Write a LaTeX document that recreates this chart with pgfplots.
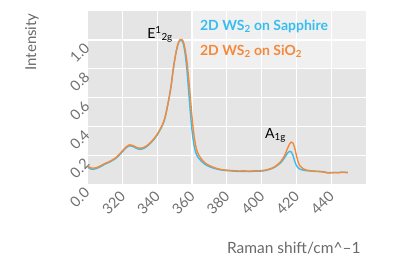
\documentclass[border=0pt]{standalone}
\usepackage{pgfplots}
\pgfplotsset{compat=1.18}
\usepackage{fontspec}
\setmainfont{Lato}
\definecolor{bgc}{HTML}{E5E5E5}
\definecolor{sapph}{HTML}{38BDEF}
\definecolor{sio}{HTML}{F5893A}
\definecolor{tickc}{HTML}{707070}
\definecolor{labc}{HTML}{6A6A6A}
\newcommand\tickfont{\fontsize{14.5}{14.5}\selectfont}
\begin{document}
\begin{tikzpicture}
\begin{axis}[
  scale only axis, width=278.3pt, height=173.3pt,
  xmin=300, xmax=460, ymin=0, ymax=1.2,
  xtick={320,340,360,380,400,420,440},
  ytick={0,0.2,0.4,0.6,0.8,1.0},
  xticklabels={320,340,360,380,400,420,440},
  yticklabels={0.0,0.2,0.4,0.6,0.8,1.0},
  axis background/.style={fill=bgc},
  grid=major, major grid style={white, line width=1.3pt},
  axis line style={draw=none}, major tick length=0pt,
  xticklabel style={font=\tickfont, text=tickc, yshift=-9pt, xshift=1pt, rotate=45, anchor=east, inner sep=1pt},
  yticklabel style={font=\tickfont, text=tickc, yshift=-5pt, rotate=45, anchor=east, inner sep=1pt},
  xlabel={Raman shift/cm\textasciicircum–1},
  ylabel={Intensity},
  every axis x label/.style={at={(axis description cs:0.993,-0.368)}, anchor=east, font=\fontsize{15.5}{15.5}\selectfont, text=labc},
  every axis y label/.style={at={(axis description cs:-0.2,0.821)}, rotate=90, anchor=center, font=\fontsize{15}{15}\selectfont, text=labc},
  legend image code/.code={},
  legend cell align=left,
  legend style={at={(rel axis cs:0.378,1)}, anchor=north west, draw=none, fill=none,
    inner xsep=7pt, inner ysep=8pt, row sep=10pt,
    font=\fontsize{14}{14}\selectfont\bfseries,
    nodes={inner sep=0pt, text height=11pt, text depth=4pt}},
]
\coordinate (O) at (rel axis cs:0,0);
\fill[white, opacity=0.45] (rel axis cs:0.378,0.665) rectangle (rel axis cs:1,1);
\addplot[sapph, line width=1.4pt, smooth, tension=0.4] coordinates {
(300,0.118)(302,0.105)(304,0.106)(306,0.114)(308,0.126)(310,0.140)(312,0.150)(314,0.163)
(316,0.178)(318,0.200)(320,0.226)(322,0.252)(324,0.266)(326,0.262)(328,0.249)(330,0.242)
(332,0.247)(334,0.262)(336,0.283)(338,0.310)(340,0.342)(342,0.385)(343,0.410)(344,0.440)
(345,0.488)(346,0.548)(347,0.612)(348,0.685)(349,0.780)(350,0.860)(351,0.925)(352,0.972)
(353,0.998)(354,0.996)(355,0.972)(356,0.905)(357,0.800)(358,0.650)(359,0.500)(360,0.370)
(361,0.280)(362,0.225)(363,0.195)(364,0.178)(366,0.152)(368,0.134)(370,0.122)(372,0.113)
(375,0.103)(378,0.097)(381,0.094)(384,0.091)(387,0.089)(390,0.090)(393,0.088)(396,0.091)
(399,0.091)(402,0.095)(405,0.105)(407,0.115)(409,0.130)(411,0.150)(413,0.180)(414,0.200)
(415,0.218)(416,0.228)(417,0.224)(418,0.200)(419,0.160)(420,0.130)(421,0.114)(422,0.105)
(424,0.098)(426,0.094)(428,0.092)(430,0.091)(433,0.090)(436,0.086)(438,0.080)(440,0.081)
(442,0.082)(444,0.081)(446,0.084)(448,0.083)(449.5,0.080)};
\addlegendentry{\textcolor{sapph}{2D WS\textsubscript{2} on Sapphire}}
\addplot[sio, line width=1.4pt, smooth, tension=0.4] coordinates {
(300,0.128)(302,0.113)(304,0.112)(306,0.120)(308,0.132)(310,0.145)(312,0.155)(314,0.168)
(316,0.183)(318,0.205)(320,0.232)(322,0.258)(324,0.273)(326,0.268)(328,0.256)(330,0.250)
(332,0.254)(334,0.268)(336,0.288)(338,0.315)(340,0.347)(342,0.390)(343,0.415)(344,0.445)
(345,0.492)(346,0.550)(347,0.612)(348,0.685)(349,0.780)(350,0.860)(351,0.928)(352,0.975)
(353,1.000)(354,1.003)(355,0.988)(356,0.935)(357,0.855)(358,0.740)(359,0.605)(360,0.460)
(361,0.350)(362,0.272)(363,0.225)(364,0.200)(366,0.165)(368,0.143)(370,0.130)(372,0.119)
(375,0.107)(378,0.100)(381,0.097)(384,0.094)(387,0.092)(390,0.093)(393,0.091)(396,0.094)
(399,0.094)(402,0.098)(405,0.108)(407,0.118)(409,0.135)(411,0.158)(413,0.195)(414,0.222)
(415,0.252)(416,0.278)(417,0.292)(418,0.286)(419,0.252)(420,0.200)(421,0.155)(422,0.128)
(424,0.107)(426,0.098)(428,0.094)(430,0.090)(433,0.088)(436,0.084)(438,0.079)(440,0.080)
(442,0.081)(444,0.080)(446,0.083)(448,0.083)(449.5,0.082)};
\addlegendentry{\textcolor{sio}{2D WS\textsubscript{2} on SiO\textsubscript{2}}}
\node[font=\fontsize{14}{14}\selectfont, black] at (axis cs:341.6,1.04) {E\textsuperscript{1}\textsubscript{2g}};
\node[font=\fontsize{14}{14}\selectfont, black] at (axis cs:408,0.336) {A\textsubscript{1g}};
\end{axis}
\pgfresetboundingbox
\path[use as bounding box] (O) ++(-87.7pt,-81.7pt) rectangle ++(416pt,266pt);
\end{tikzpicture}
\end{document}
